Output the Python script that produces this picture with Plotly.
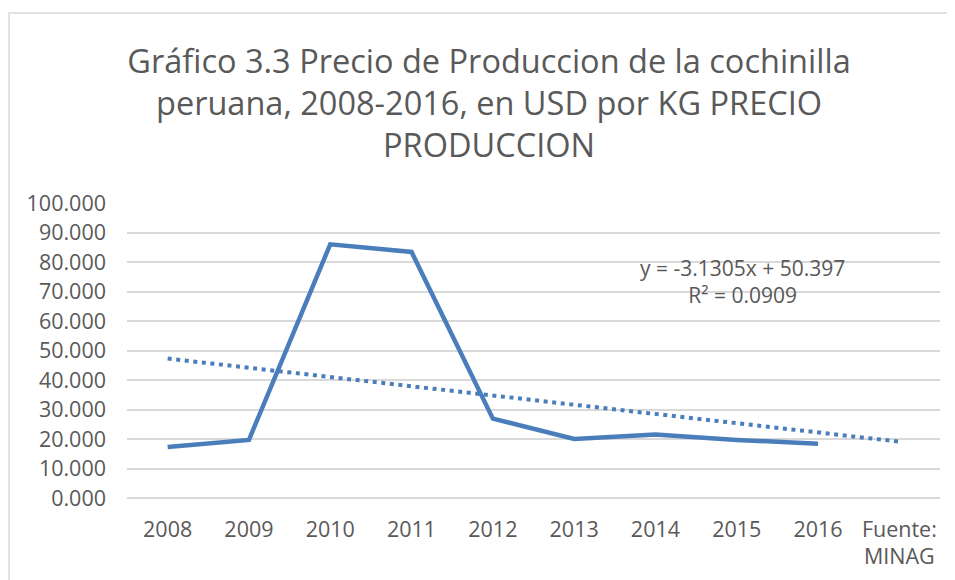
import plotly.graph_objects as go

categories = ["2008", "2009", "2010", "2011", "2012", "2013", "2014", "2015", "2016", "Fuente:<br>MINAG"]
years = ["2008", "2009", "2010", "2011", "2012", "2013", "2014", "2015", "2016"]
precio = [17.3, 19.7, 86.0, 83.4, 26.9, 20.0, 21.5, 19.7, 18.4]
trend_x = ["2008", "Fuente:<br>MINAG"]
trend_y = [47.27, 19.09]
title_text = "Gráfico 3.3 Precio de Produccion de la cochinilla<br>peruana, 2008-2016, en USD por KG PRECIO<br>PRODUCCION"
eq_text = "y = -3.1305x + 50.397<br>R² = 0.0909"

BLUE = "#4A7EBB"
GRAY = "#595959"
GRID = "#D9D9D9"
FONT = "Open Sans"

fig = go.Figure()
fig.add_trace(go.Scatter(x=years, y=precio, mode="lines",
                         line=dict(color=BLUE, width=4.5), showlegend=False,
                         hoverinfo="x+y"))
fig.add_trace(go.Scatter(x=trend_x, y=trend_y, mode="lines",
                         line=dict(color=BLUE, width=4, dash="4px,4.6px"),
                         showlegend=False, hoverinfo="skip"))

fig.update_layout(
    width=955, height=580,
    margin=dict(l=119, r=23, t=195, b=90, autoexpand=False),
    paper_bgcolor="white", plot_bgcolor="white",
    font=dict(family=FONT, color=GRAY, size=21),
    title=dict(text=title_text, x=0.4453, xref="paper", xanchor="center",
               y=0.888, yref="container", yanchor="top",
               font=dict(family=FONT, size=32.5, color=GRAY)),
    xaxis=dict(type="category", categoryorder="array", categoryarray=categories,
               range=[-0.5, 9.5], automargin=False,
               showgrid=False, showline=False, zeroline=False,
               ticks="", ticklabelstandoff=16,
               tickfont=dict(family=FONT, size=21.5, color=GRAY)),
    yaxis=dict(range=[0, 100], dtick=10, tick0=0, tickformat=".3f",
               automargin=False,
               showgrid=True, gridcolor=GRID, gridwidth=1.5,
               zeroline=True, zerolinecolor=GRID, zerolinewidth=1.5,
               showline=False, ticks="", ticklabelstandoff=20,
               tickfont=dict(family=FONT, size=21.5, color=GRAY)),
    annotations=[dict(text=eq_text, xref="paper", yref="paper",
                      x=0.757, y=0.7325, xanchor="center", yanchor="middle",
                      showarrow=False, align="center",
                      font=dict(family=FONT, size=21, color=GRAY))],
    shapes=[dict(type="rect", xref="paper", yref="paper",
                 x0=-0.1451, x1=1.05, y0=-0.35, y1=1.644,
                 line=dict(color=GRID, width=1.5), fillcolor="rgba(0,0,0,0)",
                 layer="below")],
)

fig.write_html("out.html")
